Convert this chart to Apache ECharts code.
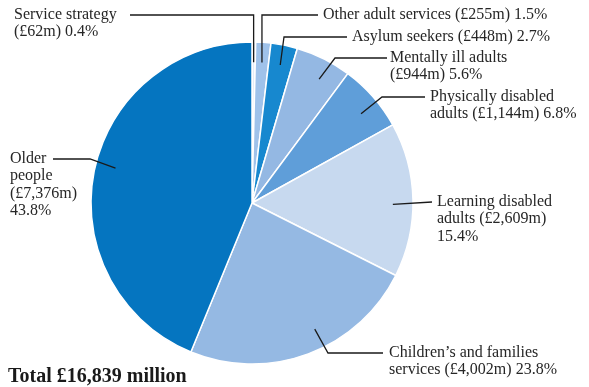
<!DOCTYPE html>
<html>
<head>
<meta charset="utf-8">
<script src="https://cdn.jsdelivr.net/npm/echarts@6/dist/echarts.min.js"></script>
<style>
  html, body { margin: 0; padding: 0; background: #fff; }
  #chart { width: 589px; height: 387px; }
</style>
</head>
<body>
<div id="chart"></div>
<script>
// Spending by service area, £ million
const categories = [
  'Service strategy',
  'Other adult services',
  'Asylum seekers',
  'Mentally ill adults',
  'Physically disabled\nadults',
  'Learning disabled\nadults',
  'Children\u2019s and families\nservices',
  'Older\npeople'
];
const spend = [62, 255, 448, 944, 1144, 2609, 4002, 7376];
const shares = ['0.4%', '1.5%', '2.7%', '5.6%', '6.8%', '15.4%', '23.8%', '43.8%'];
const totalLabel = 'Total \u00a316,839 million';

const colors = ['#e3ecf8', '#9fc2ea', '#1788cf', '#94b8e3', '#5f9ed9', '#c7d9ef', '#95b9e3', '#0575c0'];

// How each label's text is put together
const labelTemplates = [
  '{n}\n({v}) {p}',
  '{n} ({v}) {p}',
  '{n} ({v}) {p}',
  '{n}\n({v}) {p}',
  '{n} ({v}) {p}',
  '{n} ({v})\n{p}',
  '{n} ({v}) {p}',
  '{n}\n({v})\n{p}'
];

// Label placement: text box origin, where along the slice the leader starts
// (fraction of the slice's sweep), leader elbow and leader end
const labelPlacement = [
  { x: 14,  y: 6,   along: 0.5,  elbow: [null, 15], end: [130, 15] },
  { x: 323, y: 6,   along: 0.5,  elbow: [null, 15], end: [318, 15] },
  { x: 352, y: 28,  along: 0.5,  elbow: [284, 37],  end: [347, 37] },
  { x: 390, y: 49,  along: 0.6,  elbow: [335, 58],  end: [387, 58] },
  { x: 430, y: 88,  along: 0.58, elbow: [382, 97],  end: [425, 97] },
  { x: 437, y: 193, along: 0.53, elbow: null,       end: [432, 202] },
  { x: 389, y: 344, along: 0.43, elbow: [328, 353], end: [383, 353] },
  { x: 10,  y: 150, along: 0.52, elbow: [90, 159],  end: [53, 159] }
];

const cx = 252, cy = 203, R = 161;
const sum = spend.reduce((a, b) => a + b, 0);

// Angle (clockwise from 12 o'clock) where each leader meets its slice
const leaderAngles = [];
let acc = 0;
spend.forEach((v, i) => {
  leaderAngles.push(((acc + v * labelPlacement[i].along) / sum) * 2 * Math.PI);
  acc += v;
});

// Leader polylines: from inside the slice, through the elbow, to the label
const leaders = labelPlacement.map((pl, i) => {
  const a = leaderAngles[i];
  const r0 = R * 0.875;
  const start = [cx + r0 * Math.sin(a), cy - r0 * Math.cos(a)];
  const pts = [start];
  if (pl.elbow) {
    pts.push([pl.elbow[0] == null ? start[0] : pl.elbow[0], pl.elbow[1]]);
  }
  pts.push(pl.end);
  return {
    type: 'polyline',
    z: 100,
    silent: true,
    shape: { points: pts },
    style: { stroke: '#1a1a1a', lineWidth: 1.3, fill: null }
  };
});

function fmtMoney(v) {
  return '\u00a3' + v.toLocaleString('en-GB') + 'm';
}

const chart = echarts.init(document.getElementById('chart'), null, { renderer: 'canvas' });

const fontFamily = '"Liberation Serif", "DejaVu Serif", serif';

chart.setOption({
  animation: false,
  title: {
    text: totalLabel,
    left: 3,
    top: 362,
    textStyle: { fontFamily, fontSize: 20, fontWeight: 'bold', color: '#1a1a1a' }
  },
  graphic: leaders,
  series: [{
    type: 'pie',
    center: [cx, cy],
    radius: R,
    startAngle: 90,
    clockwise: true,
    avoidLabelOverlap: false,
    itemStyle: { borderColor: '#ffffff', borderWidth: 1.5 },
    label: {
      show: true,
      position: 'outside',
      fontFamily,
      fontSize: 16,
      lineHeight: 17.5,
      color: '#262626',
      formatter: p => labelTemplates[p.dataIndex]
        .replace('{n}', p.name)
        .replace('{v}', fmtMoney(p.value))
        .replace('{p}', shares[p.dataIndex])
    },
    labelLine: { show: false },
    labelLayout: params => {
      const pl = labelPlacement[params.dataIndex];
      return { x: pl.x, y: pl.y, align: 'left', verticalAlign: 'top' };
    },
    data: categories.map((name, i) => ({
      name,
      value: spend[i],
      itemStyle: { color: colors[i] }
    }))
  }]
});
</script>
</body>
</html>
